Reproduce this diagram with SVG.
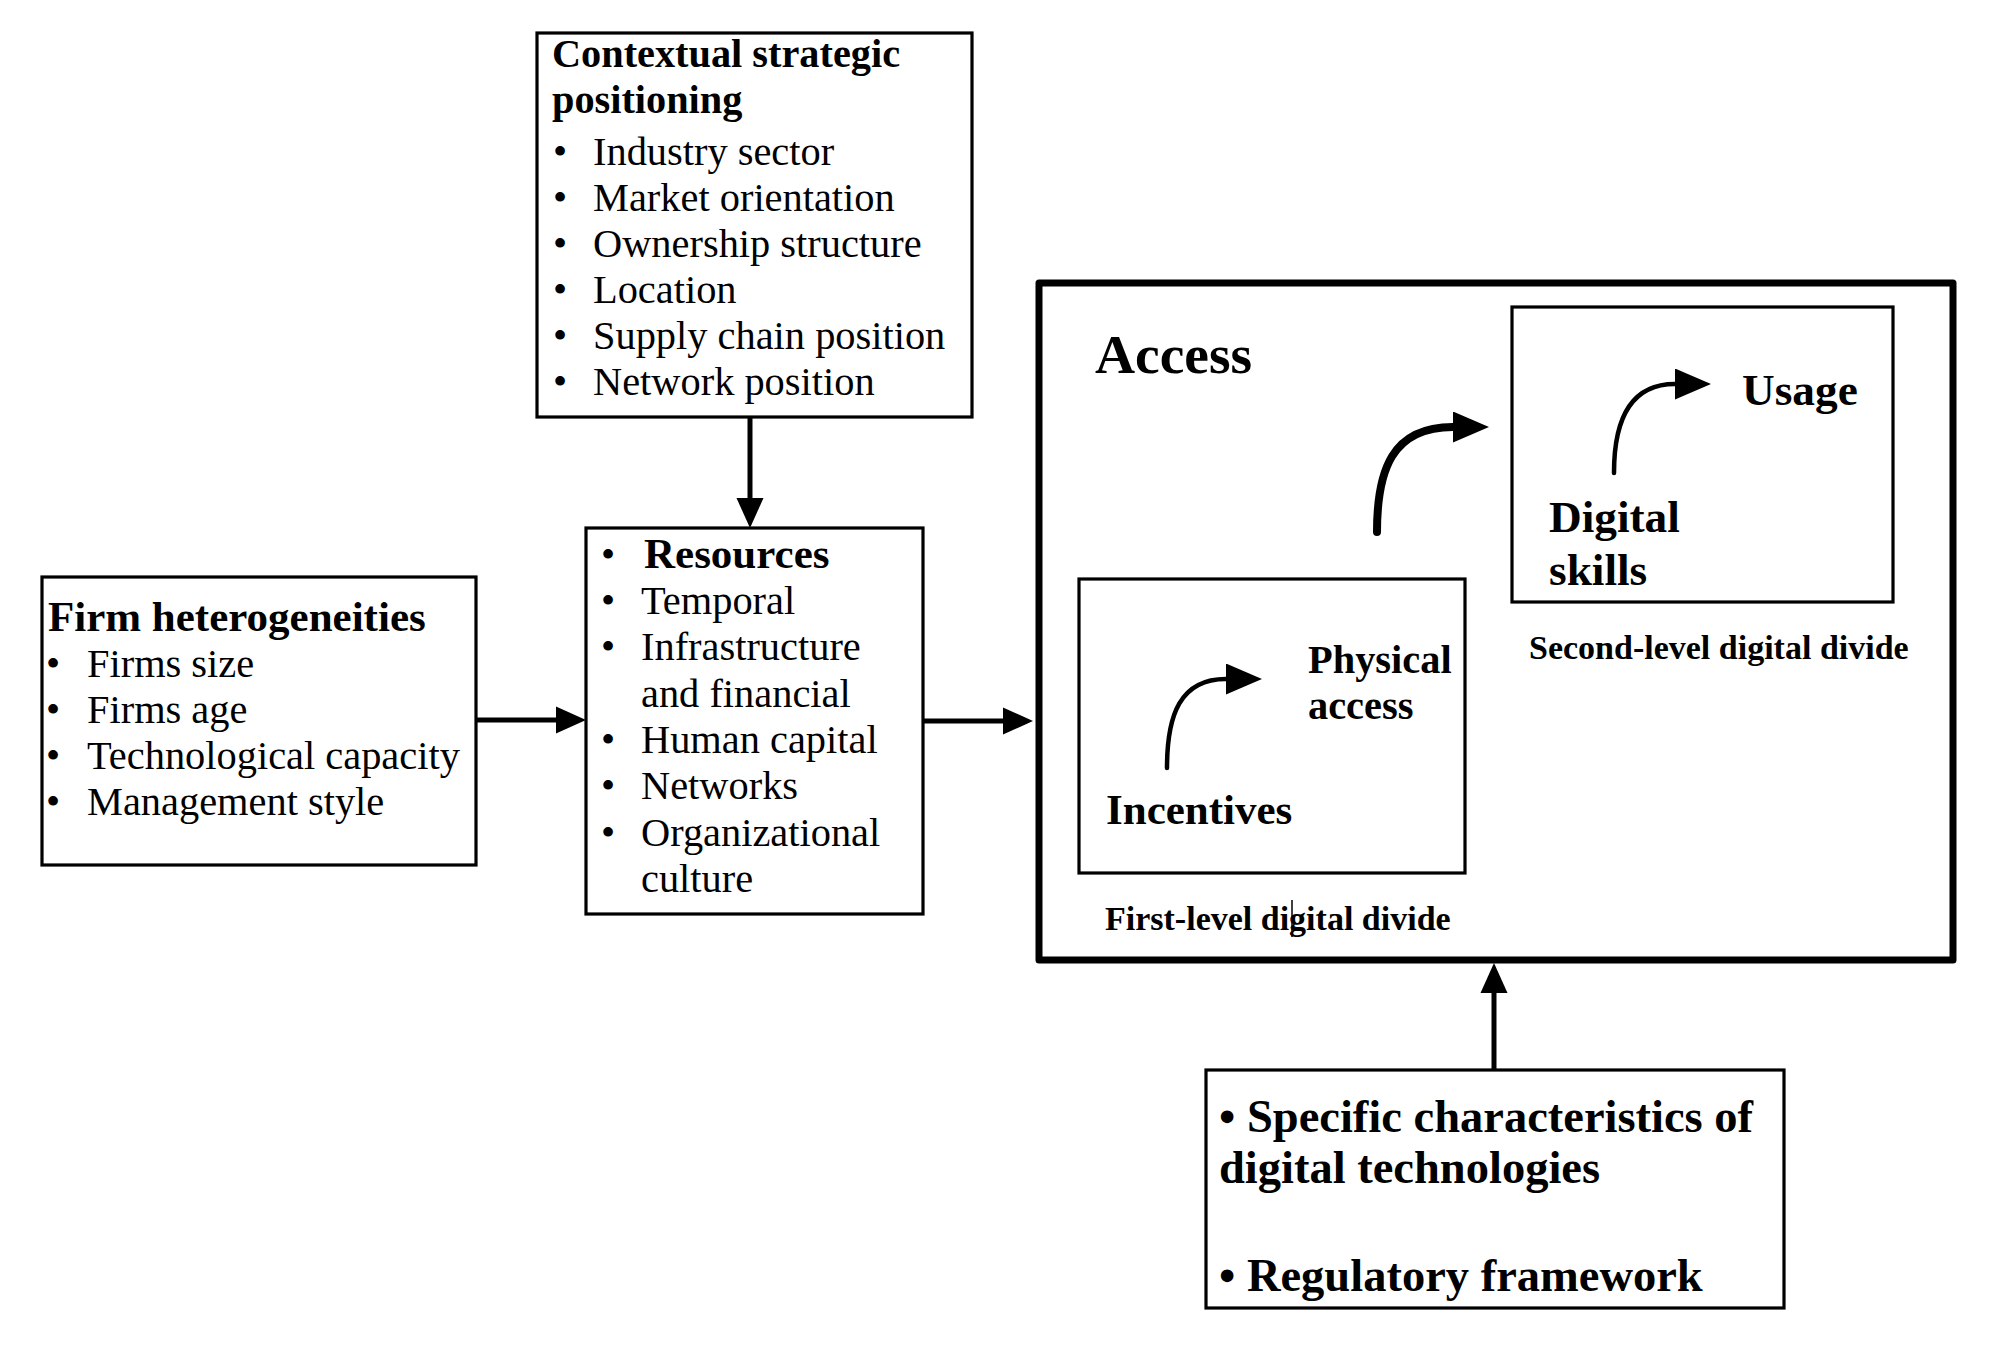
<svg xmlns="http://www.w3.org/2000/svg" width="2009" height="1348" viewBox="0 0 2009 1348">
<style>
text{font-family:"Liberation Serif","Times New Roman",serif;fill:#000}
.b{font-weight:bold}
.t40{font-size:40.4px}
.h40{font-size:40.3px}
.t43{font-size:43px}
.t45{font-size:45.3px}
.t46{font-size:46.5px}
.t34{font-size:34px}
.box{fill:#fff;stroke:#000;stroke-width:3.2}
.big{fill:none;stroke:#000;stroke-width:7;stroke-linejoin:round}
.ln{fill:none;stroke:#000;stroke-width:5}
.cv{fill:none;stroke:#000;stroke-linecap:round}
</style>
<defs>
<marker id="ah" markerUnits="userSpaceOnUse" markerWidth="31" markerHeight="28" refX="0" refY="14" orient="auto">
<path d="M0,0.5 L30,14 L0,27.5 z" fill="#000"/>
</marker>
<marker id="ch" markerUnits="userSpaceOnUse" markerWidth="37" markerHeight="32" refX="0" refY="15.5" orient="auto">
<path d="M0,0 L36,15.5 L0,31 z" fill="#000"/>
</marker>
</defs>
<rect width="2009" height="1348" fill="#fff"/>

<g id="contextual">
<rect class="box" x="537" y="33" width="435" height="384"/>
<text class="b h40" x="552" y="67">Contextual strategic</text>
<text class="b h40" x="552" y="113">positioning</text>
<g class="t40">
<text x="553" y="165">•</text><text x="593" y="165">Industry sector</text>
<text x="553" y="211">•</text><text x="593" y="211">Market orientation</text>
<text x="553" y="257">•</text><text x="593" y="257">Ownership structure</text>
<text x="553" y="303">•</text><text x="593" y="303">Location</text>
<text x="553" y="349">•</text><text x="593" y="349">Supply chain position</text>
<text x="553" y="395">•</text><text x="593" y="395">Network position</text>
</g>
</g>

<g id="firm">
<rect class="box" x="42" y="577" width="434" height="288"/>
<text class="b t43" x="48" y="631">Firm heterogeneities</text>
<g class="t40">
<text x="46" y="677">•</text><text x="87" y="677">Firms size</text>
<text x="46" y="723">•</text><text x="87" y="723">Firms age</text>
<text x="46" y="769">•</text><text x="87" y="769">Technological capacity</text>
<text x="46" y="815">•</text><text x="87" y="815">Management style</text>
</g>
</g>

<g id="resources">
<rect class="box" x="586" y="528" width="337" height="386"/>
<text class="t40" x="601" y="568">•</text>
<text class="b t43" x="644" y="568">Resources</text>
<g class="t40">
<text x="601" y="614">•</text><text x="641" y="614">Temporal</text>
<text x="601" y="660">•</text><text x="641" y="660">Infrastructure</text>
<text x="641" y="707">and financial</text>
<text x="601" y="753">•</text><text x="641" y="753">Human capital</text>
<text x="601" y="799">•</text><text x="641" y="799">Networks</text>
<text x="601" y="846">•</text><text x="641" y="846">Organizational</text>
<text x="641" y="892">culture</text>
</g>
</g>

<g id="access">
<rect class="big" x="1039" y="283" width="914" height="677"/>
<text class="b" font-size="55.5" x="1095" y="373">Access</text>
</g>

<g id="first-level">
<rect class="box" x="1079" y="579" width="386" height="294"/>
<text class="b t40" x="1308" y="673">Physical</text>
<text class="b t40" x="1308" y="719">access</text>
<text class="b t43" x="1106" y="824">Incentives</text>
<text class="b t34" x="1105" y="930">First-level digital divide</text>
<line x1="1292" y1="900" x2="1292" y2="937" stroke="#000" stroke-width="1.5"/>
</g>

<g id="second-level">
<rect class="box" x="1512" y="307" width="381" height="295"/>
<text class="b t45" x="1742" y="405">Usage</text>
<text class="b t45" x="1549" y="532">Digital</text>
<text class="b t45" x="1549" y="585">skills</text>
<text class="b t34" x="1529" y="659">Second-level digital divide</text>
</g>

<g id="factors">
<rect class="box" x="1206" y="1070" width="578" height="238"/>
<text class="b t46" x="1219" y="1132">• Specific characteristics of</text>
<text class="b t46" x="1219" y="1183">digital technologies</text>
<text class="b t46" x="1219" y="1291">• Regulatory framework</text>
</g>

<g id="connectors">
<line class="ln" x1="750" y1="417" x2="750" y2="498" marker-end="url(#ah)"/>
<line class="ln" x1="476" y1="720" x2="556" y2="720" marker-end="url(#ah)"/>
<line class="ln" x1="923" y1="721" x2="1003" y2="721" marker-end="url(#ah)"/>
<line class="ln" x1="1494" y1="1070" x2="1494" y2="993" marker-end="url(#ah)"/>
<path class="cv" stroke-width="8" d="M1377,532 C1377,470 1392,427 1453,427" marker-end="url(#ch)"/>
<path class="cv" stroke-width="4.5" d="M1167,768 C1167,715 1180,679 1226,679" marker-end="url(#ch)"/>
<path class="cv" stroke-width="4.5" d="M1614,473 C1614,420 1630,384 1675,384" marker-end="url(#ch)"/>
</g>
</svg>
